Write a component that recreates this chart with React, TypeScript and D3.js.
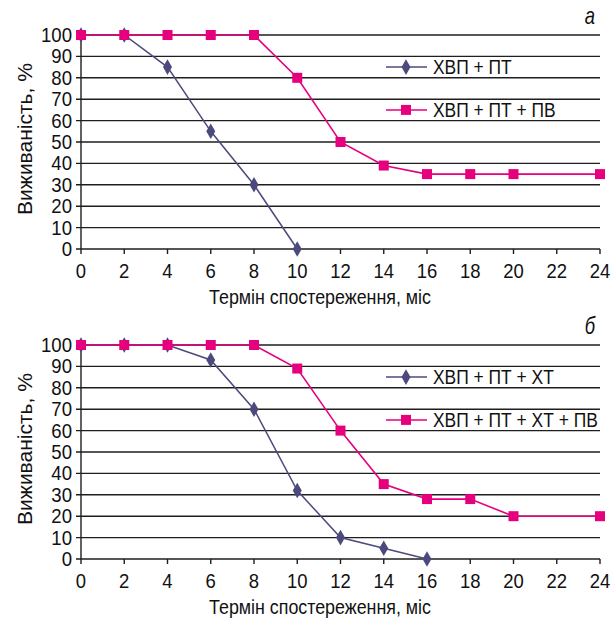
import React from "react";
import * as d3 from "d3";

const months = [0, 2, 4, 6, 8, 10, 12, 14, 16, 18, 20, 22, 24];
const yTicks = [0, 10, 20, 30, 40, 50, 60, 70, 80, 90, 100];

const aMonthsPT = [0, 2, 4, 6, 8, 10];
const aValuesPT = [100, 100, 85, 55, 30, 0];
const aMonthsPV = [0, 2, 4, 6, 8, 10, 12, 14, 16, 18, 20, 24];
const aValuesPV = [100, 100, 100, 100, 100, 80, 50, 39, 35, 35, 35, 35];

const bMonthsXT = [0, 2, 4, 6, 8, 10, 12, 14, 16];
const bValuesXT = [100, 100, 100, 93, 70, 32, 10, 5, 0];
const bMonthsPV = [0, 2, 4, 6, 8, 10, 12, 14, 16, 18, 20, 24];
const bValuesPV = [100, 100, 100, 100, 100, 89, 60, 35, 28, 28, 20, 20];

const aLegend = ["ХВП + ПТ", "ХВП + ПТ + ПВ"];
const bLegend = ["ХВП + ПТ + ХТ", "ХВП + ПТ + ХТ + ПВ"];
const yTitle = "Виживаність, %";
const xTitle = "Термін спостереження, міс";

const BLUE = "#4c4a7c";
const PINK = "#e6007e";
const FONT = "'Liberation Sans', Arial, sans-serif";

type Pt = { m: number; v: number };

function zip(ms: number[], vs: number[]): Pt[] {
  return ms.map((m, i) => ({ m, v: vs[i] }));
}

function CText({
  x,
  y,
  sx,
  size,
  anchor,
  italic,
  children,
}: {
  x: number;
  y: number;
  sx: number;
  size: number;
  anchor?: string;
  italic?: boolean;
  children: React.ReactNode;
}) {
  return (
    <text
      transform={`translate(${x},${y}) scale(${sx},1)`}
      textAnchor={anchor || "start"}
      fontFamily={FONT}
      fontStyle={italic ? "italic" : "normal"}
      fontSize={size}
      fill="#111"
    >
      {children}
    </text>
  );
}

function Panel({ top, letter, s1, s2, legend }: { top: number; letter: string; s1: Pt[]; s2: Pt[]; legend: string[] }) {
  const x = d3.scaleLinear().domain([0, 24]).range([81, 600]);
  const y = d3.scaleLinear().domain([0, 100]).range([top + 214, top]);
  const line = d3
    .line<Pt>()
    .x((d) => x(d.m))
    .y((d) => y(d.v));
  const diamond = d3.symbol(d3.symbolDiamond, 70)() as string;
  const legY = [y(85), y(65)];
  return (
    <g>
      {yTicks.map((t) => (
        <g key={"g" + t}>
          <line x1={76} x2={600} y1={y(t)} y2={y(t)} stroke="#1e1e1e" strokeWidth={1.4} />
          <CText x={72} y={y(t) + 7} sx={0.93} size={20} anchor="end">
            {t}
          </CText>
        </g>
      ))}
      <line x1={81} x2={81} y1={y(100)} y2={y(0)} stroke="#1e1e1e" strokeWidth={1.4} />
      {months.map((m) => (
        <g key={"x" + m}>
          <line x1={x(m)} x2={x(m)} y1={y(0)} y2={y(0) + 5} stroke="#1e1e1e" strokeWidth={1.4} />
          <CText x={x(m)} y={y(0) + 29} sx={0.88} size={21} anchor="middle">
            {m}
          </CText>
        </g>
      ))}
      <CText x={320} y={top + 269} sx={0.87} size={20.5} anchor="middle">
        {xTitle}
      </CText>
      <text
        transform={`translate(32,${top + 104}) rotate(-90)`}
        textAnchor="middle"
        fontFamily={FONT}
        fontSize={21}
        fill="#111"
      >
        {yTitle}
      </text>
      <CText x={595} y={top - 11} sx={0.8} size={23} anchor="end" italic>
        {letter}
      </CText>
      <path d={line(s1) || ""} fill="none" stroke={BLUE} strokeWidth={1.5} />
      <path d={line(s2) || ""} fill="none" stroke={PINK} strokeWidth={1.6} />
      {s1.map((d, i) => (
        <path key={"d" + i} d={diamond} transform={`translate(${x(d.m)},${y(d.v)})`} fill={BLUE} />
      ))}
      {s2.map((d, i) => (
        <rect key={"s" + i} x={x(d.m) - 5} y={y(d.v) - 5} width={10} height={10} fill={PINK} />
      ))}
      {legend.map((lab, i) => (
        <g key={"l" + i}>
          <line x1={386} x2={427} y1={legY[i]} y2={legY[i]} stroke={i === 0 ? BLUE : PINK} strokeWidth={1.5} />
          {i === 0 ? (
            <path d={diamond} transform={`translate(406,${legY[i]})`} fill={BLUE} />
          ) : (
            <rect x={401} y={legY[i] - 5} width={10} height={10} fill={PINK} />
          )}
          <CText x={433} y={legY[i] + 7.3} sx={0.85} size={20.5}>
            {lab}
          </CText>
        </g>
      ))}
    </g>
  );
}

export default function App() {
  return (
    <svg width={616} height={620} style={{ position: "absolute", left: 0, top: 0, background: "#fff" }}>
      <rect width={616} height={620} fill="#fff" />
      <Panel top={35} letter="а" s1={zip(aMonthsPT, aValuesPT)} s2={zip(aMonthsPV, aValuesPV)} legend={aLegend} />
      <Panel top={345} letter="б" s1={zip(bMonthsXT, bValuesXT)} s2={zip(bMonthsPV, bValuesPV)} legend={bLegend} />
    </svg>
  );
}
